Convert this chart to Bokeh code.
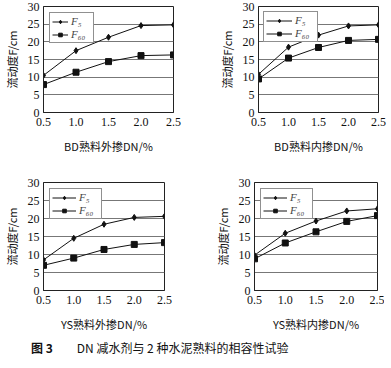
from bokeh.plotting import figure
from bokeh.layouts import column, row
from bokeh.models import Range1d, FixedTicker, Legend, LegendItem, Div, CustomJSTickFormatter
from bokeh.embed import file_html
from bokeh.resources import INLINE

x_dn = [0.5, 1.0, 1.5, 2.0, 2.5]
x_ticks = [0.5, 1.0, 1.5, 2.0, 2.5]
y_ticks = [0, 5, 10, 15, 20, 25, 30]

bd_out_f5 = [10.5, 17.5, 21.3, 24.6, 24.8]
bd_out_f60 = [7.9, 11.4, 14.4, 16.1, 16.3]
bd_in_f5 = [10.8, 18.5, 21.9, 24.5, 24.8]
bd_in_f60 = [9.5, 15.4, 18.4, 20.4, 20.7]
ys_out_f5 = [8.5, 14.5, 18.4, 20.3, 20.6]
ys_out_f60 = [7.0, 9.0, 11.4, 12.8, 13.3]
ys_in_f5 = [9.8, 15.9, 19.3, 22.1, 22.7]
ys_in_f60 = [8.8, 13.2, 16.3, 19.2, 20.8]

x_labels = ["BD熟料外掺DN/%", "BD熟料内掺DN/%", "YS熟料外掺DN/%", "YS熟料内掺DN/%"]
y_label = "流动度F/cm"
series_names = ["F₅", "F₆₀"]
caption_bold = "图 3"
caption_text = "DN 减水剂与 2 种水泥熟料的相容性试验"

NUM_FONT = "Liberation Serif"
CJK_FONT = "Noto Sans CJK SC"


def make_panel(f5, f60, xlabel, fw, fh, bl, br, bt, bb, gw, lmargin):
    p = figure(frame_width=fw, frame_height=fh, output_backend="svg", toolbar_location=None,
               x_range=Range1d(0.5, 2.5), y_range=Range1d(0, 30),
               min_border_left=bl, min_border_right=br, min_border_top=bt, min_border_bottom=bb)
    p.xgrid.visible = False
    p.ygrid.ticker = FixedTicker(ticks=[5, 10, 15, 20, 25])
    p.ygrid.grid_line_color = "#777777"
    p.ygrid.grid_line_width = 1
    p.outline_line_color = "#222222"
    p.outline_line_width = 1
    p.background_fill_color = "white"
    p.border_fill_color = "white"

    p.xaxis.ticker = FixedTicker(ticks=x_ticks)
    p.xaxis.formatter = CustomJSTickFormatter(code="return tick.toFixed(1);")
    p.yaxis.ticker = FixedTicker(ticks=y_ticks)
    for ax in (p.xaxis[0], p.yaxis[0]):
        ax.major_tick_out = 0
        ax.major_tick_in = 0
        ax.minor_tick_out = 0
        ax.minor_tick_in = 0
        ax.axis_line_color = "#222222"
        ax.major_label_text_font = NUM_FONT
        ax.major_label_text_font_size = "12px"
        ax.major_label_text_color = "#111111"
        ax.axis_label_text_font = CJK_FONT
        ax.axis_label_text_font_size = "11px"
        ax.axis_label_text_font_style = "normal"
        ax.axis_label_text_color = "#111111"
    p.xaxis.major_label_standoff = 5
    p.yaxis.major_label_standoff = 4
    p.xaxis.axis_label_standoff = 9
    p.yaxis.axis_label_standoff = 5
    p.xaxis.axis_label = xlabel
    p.yaxis.axis_label = y_label

    l1 = p.line(x_dn, f5, line_color="#111111", line_width=1)
    m1 = p.scatter(x_dn, f5, marker="diamond", size=6, color="#111111")
    l2 = p.line(x_dn, f60, line_color="#111111", line_width=1)
    m2 = p.scatter(x_dn, f60, marker="square", size=6, color="#111111")

    legend = Legend(items=[LegendItem(label=series_names[0], renderers=[l1, m1]),
                           LegendItem(label=series_names[1], renderers=[l2, m2])],
                    location="top_left")
    legend.label_text_font = NUM_FONT
    legend.label_text_font_style = "italic"
    legend.label_text_font_size = "11px"
    legend.label_height = 9
    legend.glyph_height = 9
    legend.glyph_width = gw
    legend.spacing = 1
    legend.padding = 2
    legend.margin = lmargin
    legend.label_standoff = 3
    legend.border_line_color = "#222222"
    legend.border_line_width = 1
    legend.background_fill_alpha = 1.0
    p.add_layout(legend)
    return p


p1 = make_panel(bd_out_f5, bd_out_f60, x_labels[0], 130, 106, 35, 42, 6, 58, 16, 6)
p2 = make_panel(bd_in_f5, bd_in_f60, x_labels[1], 120, 106, 38, 10, 6, 58, 26, 5)
p3 = make_panel(ys_out_f5, ys_out_f60, x_labels[2], 121, 108, 38, 47, 12, 45, 24, 6)
p4 = make_panel(ys_in_f5, ys_in_f60, x_labels[3], 123, 108, 38, 7, 12, 45, 24, 6)

cap = Div(text=(f'<div style="font-family:\'{CJK_FONT}\';font-size:12px;color:#111;'
                f'padding-left:26px;white-space:nowrap;line-height:15px;">'
                f'<b>{caption_bold}</b>&emsp;&emsp;{caption_text}</div>'),
          width=374, height=16)

layout = column(row(p1, p2), row(p3, p4), cap)

open("out.html", "w").write(file_html(layout, INLINE))
